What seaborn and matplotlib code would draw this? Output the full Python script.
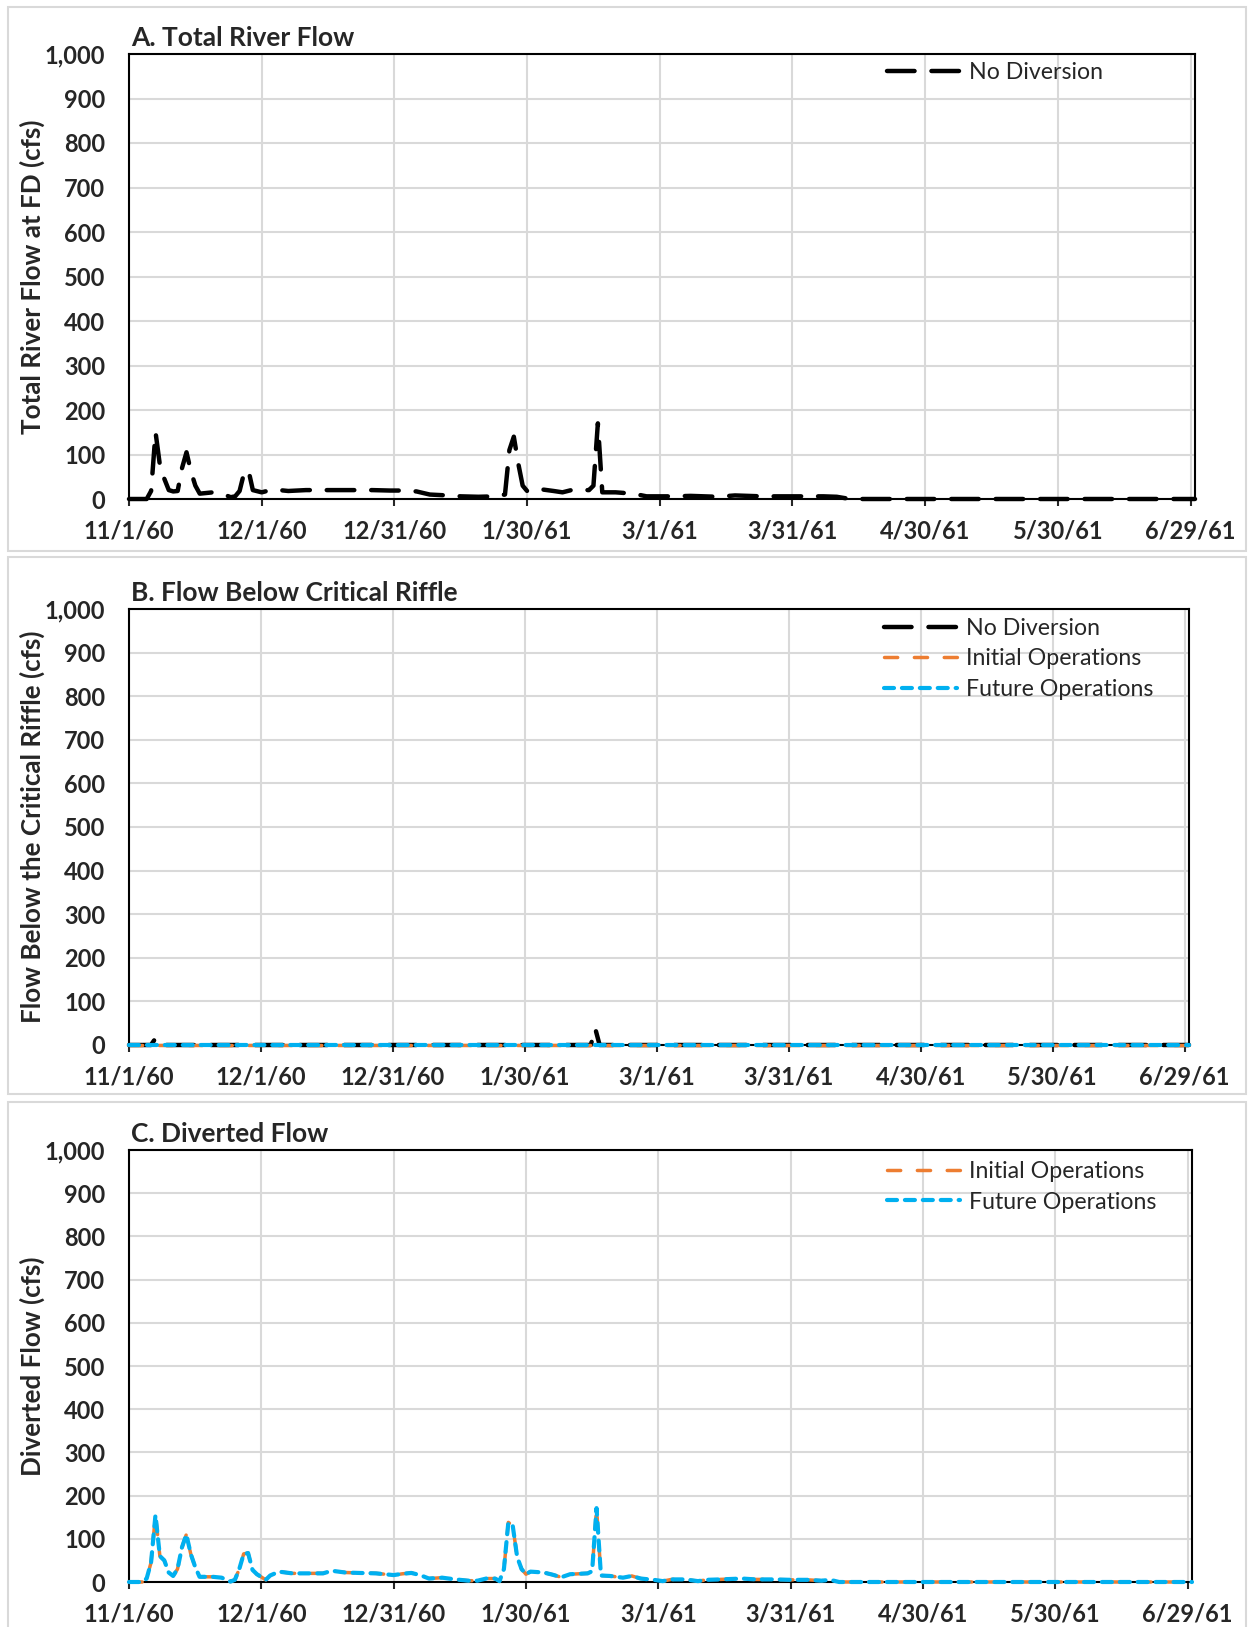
import numpy as np
import pandas as pd
import seaborn as sns
import matplotlib.pyplot as plt
from matplotlib.patches import Rectangle
from matplotlib.ticker import StrMethodFormatter

# days after 11/1/60 and flow values (cfs)
total_days = [0, 4, 5, 6, 7, 8, 9, 10, 11, 12, 13, 14, 15, 16, 19, 21, 23, 24, 25, 26,
              27, 28, 30, 32, 34, 36, 40, 45, 49, 55, 59, 62, 65, 68, 72, 75, 79, 83,
              85, 86, 87, 88, 89, 90, 91, 93, 96, 98, 100, 102, 104, 105, 106, 107, 110,
              114, 117, 123, 127, 133, 137, 143, 147, 153, 157, 160, 163, 241]
total_flow = [0, 0, 18, 150, 75, 45, 20, 17, 18, 70, 105, 62, 30, 12, 15, 12, 4, 6, 18, 58,
              65, 20, 15, 20, 20, 18, 20, 20, 20, 20, 19, 19, 17, 10, 8, 6, 5, 6,
              10, 110, 140, 80, 30, 18, 22, 22, 18, 15, 20, 20, 20, 30, 170, 15, 15,
              12, 6, 6, 7, 5, 8, 6, 6, 6, 6, 5, 0, 0]

below_days = [0, 5, 6, 7, 105, 106, 107, 241]
below_no_div = [0, 0, 15, 0, 0, 38, 0, 0]
below_ops_days = [0, 241]
below_initial = [0, 0]
below_future = [0, 0]

div_days = [0, 3, 4, 5, 6, 7, 8, 9, 10, 11, 12, 13, 14, 15, 16, 19, 21, 23, 24, 25,
            26, 27, 28, 29, 31, 32, 34, 37, 44, 46, 49, 52, 56, 60, 62, 64, 66, 68,
            71, 74, 77, 79, 81, 83, 84, 85, 86, 87, 88, 89, 90, 91, 94, 96, 98, 100,
            104, 105, 106, 107, 109, 112, 114, 116, 119, 121, 123, 126, 129, 131, 134,
            139, 142, 146, 150, 154, 157, 159, 161, 241]
div_initial = [0, 0, 8, 45, 155, 60, 50, 22, 14, 30, 80, 110, 65, 35, 12, 12, 10, 1, 5, 30,
               65, 67, 28, 18, 5, 15, 24, 20, 20, 26, 22, 21, 20, 16, 19, 21, 16, 8,
               10, 6, 3, 3, 8, 8, 2, 30, 138, 130, 58, 30, 18, 24, 22, 17, 11, 18,
               20, 25, 171, 15, 14, 10, 14, 8, 5, 2, 6, 6, 2, 5, 6,
               8, 6, 6, 5, 5, 3, 5, 0, 0]
div_future = list(div_initial)

tick_days = [0, 30, 60, 90, 120, 150, 180, 210, 240]
tick_labels = ["11/1/60", "12/1/60", "12/31/60", "1/30/61", "3/1/61",
               "3/31/61", "4/30/61", "5/30/61", "6/29/61"]

sns.set_style("white")
plt.rcParams['font.family'] = ['Lato', 'DejaVu Sans']

BLACK = "#000000"
ORANGE = "#ED7D31"
BLUE = "#00B0F0"

fig = plt.figure(figsize=(12.5, 16.27), dpi=100)
W, H = 1250, 1627


def px_axes(left, top, right, bottom):
    return fig.add_axes([left / W, 1 - bottom / H, (right - left) / W, (bottom - top) / H])


def panel_box(top, bottom):
    fig.add_artist(Rectangle((8 / W, 1 - bottom / H), (1246 - 8) / W, (bottom - top) / H,
                             transform=fig.transFigure, fill=False,
                             edgecolor="#d9d9d9", lw=1.5))


def draw(ax, x, y, color, lw, dashes, label, z):
    sns.lineplot(x=x, y=y, ax=ax, color=color, linewidth=lw, label=label,
                 estimator=None, sort=False, clip_on=False, zorder=z)
    ln = ax.lines[-1]
    ln.set_dashes(dashes)
    ln.set_dash_capstyle("round")
    ln.set_solid_capstyle("round")


def style(ax, title, ylabel, leg_xy, ylab_x):
    ax.set_xlim(0, 241)
    ax.set_ylim(0, 1000)
    ax.set_xticks(tick_days)
    ax.set_xticklabels(tick_labels)
    ax.set_yticks(range(0, 1001, 100))
    ax.yaxis.set_major_formatter(StrMethodFormatter("{x:,.0f}"))
    ax.grid(True, color="#d9d9d9", lw=1.5)
    ax.set_axisbelow(True)
    for s in ax.spines.values():
        s.set_color("black")
        s.set_linewidth(1.5)
        s.set_visible(True)
    ax.tick_params(axis="x", direction="out", length=5, width=1.5, pad=10,
                   labelsize=17, bottom=True)
    ax.tick_params(axis="y", length=0, pad=17, labelsize=17)
    for t in ax.get_xticklabels() + ax.get_yticklabels():
        t.set_fontweight("bold")
    ax.set_xlabel("")
    ax.set_ylabel(ylabel, fontsize=18.7, fontweight="bold")
    ax.yaxis.set_label_coords(ylab_x, 0.5)
    ax.text(0.002, 1.01, title, transform=ax.transAxes, fontsize=19,
            fontweight="bold", ha="left", va="bottom")
    ax.legend(loc="upper left", bbox_to_anchor=leg_xy, frameon=False, fontsize=16.7,
              handlelength=3.15, handletextpad=0.4, labelspacing=0.42,
              borderpad=0, borderaxespad=0)


panel_box(7, 551)
panel_box(557, 1094)
panel_box(1102, 1640)

# A. Total river flow
axA = px_axes(129, 54, 1195, 499)
draw(axA, total_days, total_flow, BLACK, 3.2, (6.2, 3.8), "No Diversion", 3)
style(axA, "A. Total River Flow", "Total River Flow at FD (cfs)", (0.711, 0.982), -0.079)

# B. Flow below critical riffle
axB = px_axes(129, 609, 1189, 1045)
draw(axB, below_days, below_no_div, BLACK, 3.2, (6.2, 3.8), "No Diversion", 3)
draw(axB, below_ops_days, below_initial, ORANGE, 2.5, (3.8, 4.8), "Initial Operations", 4)
draw(axB, below_ops_days, below_future, BLUE, 3, (2.4, 1.9), "Future Operations", 5)
style(axB, "B. Flow Below Critical Riffle", "Flow Below the Critical Riffle (cfs)",
      (0.712, 0.98), -0.079)

# C. Diverted flow
axC = px_axes(129, 1150, 1192, 1582)
draw(axC, div_days, div_initial, ORANGE, 2.5, (3.8, 4.8), "Initial Operations", 4)
draw(axC, div_days, div_future, BLUE, 3, (2.4, 1.9), "Future Operations", 5)
style(axC, "C. Diverted Flow", "Diverted Flow (cfs)", (0.713, 0.975), -0.079)

fig.savefig("out.png", dpi=100)
